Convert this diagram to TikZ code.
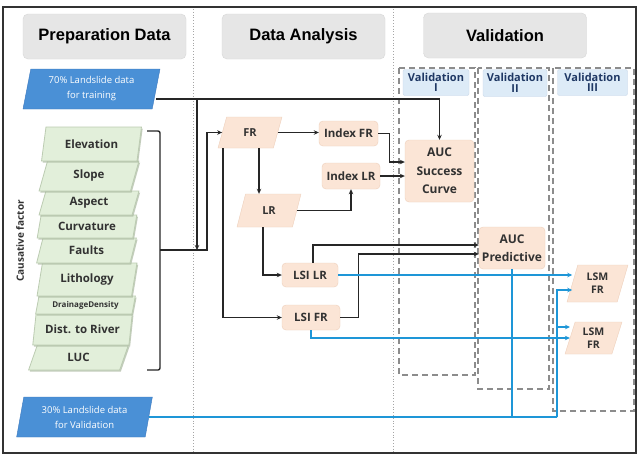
\documentclass[tikz,border=0pt]{standalone}
\usepackage{fontspec}
\setmainfont{Open Sans}
\newfontfamily\hfont{Liberation Sans}
\usetikzlibrary{shapes.geometric,arrows.meta,calc,shadows}
\definecolor{peach}{RGB}{251,229,214}
\definecolor{peachedge}{RGB}{238,208,188}
\definecolor{grn}{RGB}{226,239,218}
\definecolor{grnedge}{RGB}{188,204,178}
\definecolor{grnshadow}{RGB}{170,185,160}
\definecolor{pblue}{RGB}{74,144,214}
\definecolor{pblueedge}{RGB}{60,120,190}
\definecolor{lblue}{RGB}{221,235,247}
\definecolor{lbluedge}{RGB}{200,215,232}
\definecolor{hgray}{RGB}{230,230,230}
\definecolor{hgrayedge}{RGB}{215,215,215}
\definecolor{lineblue}{RGB}{30,150,215}
\definecolor{navy}{RGB}{31,56,100}
\definecolor{txt}{RGB}{50,50,50}
\begin{document}
\begin{tikzpicture}[x=1pt,y=-1pt,
  header/.style={rounded corners=5pt, fill=hgray, draw=hgrayedge, minimum width=163pt, minimum height=45pt, inner sep=1pt, font=\hfont\bfseries\fontsize{16.5}{18}\selectfont},
  para/.style={trapezium, trapezium left angle=#1, trapezium right angle=180-#1, trapezium stretches=true, inner sep=1pt, align=center},
  factor/.style={para=76, fill=grn, draw=grnedge, line width=0.8pt, minimum width=100pt, text=txt, font=\bfseries\fontsize{11.5}{13}\selectfont, drop shadow={shadow xshift=1.2pt, shadow yshift=-1.5pt, fill=grnshadow, opacity=0.7}},
  datap/.style={para=78, fill=pblue, draw=pblueedge, minimum width=137pt, minimum height=40pt, text=white, font=\fontsize{9.5}{15}\selectfont},
  peachp/.style={para=74, fill=peach, draw=peachedge, text=txt, font=\bfseries\fontsize{11}{13}\selectfont},
  pbox/.style={rounded corners=4pt, fill=peach, draw=peachedge, text=txt, inner sep=1pt, align=center, font=\bfseries\fontsize{11.5}{13}\selectfont},
  vlabel/.style={rounded corners=2pt, fill=lblue, draw=lbluedge, inner sep=1pt, align=center, text=navy, font=\bfseries\fontsize{11}{10.5}\selectfont},
  vbox/.style={draw=black!45, dashed, dash pattern=on 6pt off 4pt, line width=1.3pt},
  divider/.style={draw=black!35, dotted, line width=0.8pt},
  arr/.style={draw=black!85, line width=1.4pt, -{Stealth[length=5pt,width=4.5pt]}},
  ln/.style={draw=black!85, line width=1.4pt},
  barr/.style={draw=lineblue, line width=1.6pt, -{Stealth[length=5pt,width=4.5pt]}},
  bln/.style={draw=lineblue, line width=1.6pt}
]
\useasboundingbox (0,0) rectangle (640,459);
\fill[white] (0,0) rectangle (640,459);
% dividers
\draw[divider] (193,9) -- (193,452);
\draw[divider] (393,9) -- (393,452);
% outer frame
\draw[draw=black!80, line width=2pt] (3,7) rectangle (636,453);

% headers
\node[header] (hPrep) at (104.5,36.5) {Preparation Data};
\node[header] (hAna) at (303.5,36.5) {Data Analysis};
\node[header] (hVal) at (505,35.5) {Validation};

% validation dashed boxes
\draw[vbox] (399,68) rectangle (475,375);
\draw[vbox] (478,68) rectangle (549,389);
\draw[vbox] (553,68) rectangle (634,411);
\node[vlabel, minimum width=66pt, minimum height=26pt] (vI) at (436,82.5) {Validation\\I};
\node[vlabel, minimum width=64pt, minimum height=27pt] (vII) at (515,83) {Validation\\II};
\node[vlabel, minimum width=70pt, minimum height=26pt] (vIII) at (592.5,82.5) {Validation\\III};

% data parallelograms
\node[datap] (p70) at (91.5,89) {70\% Landslide data\\for training};
\node[datap] (p30) at (84.5,417) {30\% Landslide data\\for Validation};

% causative factors
\node[factor, minimum height=25pt] (fLUC) at (78.5,357.5) {LUC};
\node[factor, minimum height=31pt] (fDist) at (82.5,329.5) {Dist. to River};
\node[factor, minimum height=18pt, font=\bfseries\fontsize{8}{9}\selectfont] (fDrain) at (85.5,305) {DrainageDensity};
\node[factor, minimum height=33pt] (fLith) at (87,279.5) {Lithology};
\node[factor, minimum height=25pt] (fFault) at (86.5,250.5) {Faults};
\node[factor, minimum height=23pt] (fCurv) at (87,226.5) {Curvature};
\node[factor, minimum height=24pt] (fAsp) at (89,203) {Aspect};
\node[factor, minimum height=30pt] (fSlope) at (89,176) {Slope};
\node[factor, minimum height=34pt] (fElev) at (91.5,144) {Elevation};
\node[rotate=90, text=txt, font=\bfseries\fontsize{10}{12}\selectfont] (cf) at (20,241) {Causative factor};

% analysis nodes
\node[peachp, minimum width=64pt, minimum height=31pt] (FR) at (250,132.5) {FR};
\node[peachp, minimum width=64pt, minimum height=33pt] (LR) at (269,210.5) {LR};
\node[pbox, minimum width=59pt, minimum height=25pt] (iFR) at (348.5,133.5) {Index FR};
\node[pbox, minimum width=58pt, minimum height=26pt] (iLR) at (351,176) {Index LR};
\node[pbox, minimum width=56pt, minimum height=24pt] (lsiLR) at (310,275) {LSI LR};
\node[pbox, minimum width=58pt, minimum height=25pt] (lsiFR) at (311,317.5) {LSI FR};

% validation nodes
\node[pbox, minimum width=69pt, minimum height=62pt, font=\bfseries\fontsize{12}{18.5}\selectfont] (aucS) at (439.5,171) {AUC\\Success\\Curve};
\node[pbox, minimum width=66pt, minimum height=42pt, font=\bfseries\fontsize{12}{18}\selectfont] (aucP) at (512,248) {AUC\\Predictive};
\node[peachp, minimum width=61pt, minimum height=37pt, font=\bfseries\fontsize{10.5}{13}\selectfont] (lsm1) at (597.5,283.5) {LSM\\FR};
\node[peachp, minimum width=57pt, minimum height=32pt, font=\bfseries\fontsize{10.5}{13}\selectfont] (lsm2) at (593.5,338) {LSM\\FR};

% bracket
\coordinate (brT) at (147,131);
\coordinate (brB) at (147,370);
\coordinate (brM) at (160,250);
\coordinate (bj) at (207,250);
\draw[ln, rounded corners=2pt] (brT) -- (160,131) -- (160,370) -- (brB);

% black connectors
\coordinate (j70) at (197,99);
\coordinate (j70b) at (197,250);
\draw[arr] ([yshift=-10pt]p70.east) -| (aucS.north);
\draw[arr] (j70) -- (j70b);
\draw[arr] (brM) -- (bj) |- (FR.west);
\draw[arr] (FR.east) -- (FR.east -| iFR.west);
\draw[arr] ([xshift=9pt]FR.south) -- ([xshift=9pt]FR.south |- LR.north);
\draw[arr] (LR.east) -| (iLR.south);
\draw[arr] ([xshift=-6pt]LR.south) |- (lsiLR.west);
\draw[arr] ([xshift=-27pt]FR.south) |- (lsiFR.west);
\draw[arr] (iFR.east) -- ++(11,0) |- ([yshift=9pt]aucS.west);
\draw[arr] (iLR.east) -- (iLR.east -| aucS.west);
\draw[arr] ([xshift=3pt]lsiLR.north) |- ([yshift=3pt]aucP.west);
\draw[arr] (lsiFR.east) -- ++(18,0) |- ([yshift=-6pt]aucP.west);

% blue connectors
\coordinate (bx) at (557,417);
\coordinate (bx2) at (557,327);
\draw[barr] (lsiLR.east) -- (lsiLR.east -| lsm1.west);
\draw[barr] (lsiFR.south) |- (lsm2.west);
\draw[bln] (p30.east) -- (bx);
\draw[barr] (bx) |- ([yshift=-6.5pt]lsm1.west);
\draw[barr] (bx2) -- ($(bx2)+(13,0)$);
\draw[bln] (aucP.south) -- (aucP.south |- bx);
\end{tikzpicture}
\end{document}
